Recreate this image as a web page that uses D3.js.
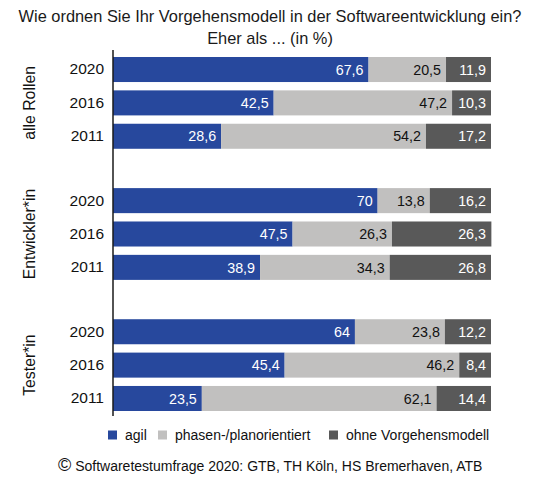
<!DOCTYPE html>
<html>
<head>
<meta charset="utf-8">
<script src="https://cdn.jsdelivr.net/npm/d3@7"></script>
<style>
  body { margin: 0; background: #fff; }
  svg { display: block; font-family: "Liberation Sans", Arial, Helvetica, sans-serif; }
</style>
</head>
<body>
<svg id="chart" width="540" height="484"></svg>
<script>
const WIDTH = 540;
const HEIGHT = 484;

// chart data
const groups = ["alle Rollen", "Entwickler*in", "Tester*in"];
const years = ["2020", "2016", "2011"];
const series = ["agil", "phasen-/planorientiert", "ohne Vorgehensmodell"];
const agil = [[67.6, 42.5, 28.6], [70, 47.5, 38.9], [64, 45.4, 23.5]];
const phasen = [[20.5, 47.2, 54.2], [13.8, 26.3, 34.3], [23.8, 46.2, 62.1]];
const ohne = [[11.9, 10.3, 17.2], [16.2, 26.3, 26.8], [12.2, 8.4, 14.4]];
const colors = ["#27489d", "#c1c0bf", "#595959"];
const textColors = ["#ffffff", "#111111", "#ffffff"];

const svg = d3.select("#chart");

// scales
const x = d3.scaleLinear().domain([0, 100]).range([113, 491]);
const yGroup = d3.scaleBand().domain(groups).range([57, 411]).paddingInner(0.3);
const yYear = d3.scaleBand().domain(years).range([0, yGroup.bandwidth()]).paddingInner(0.25);

// build rows
const rows = [];
groups.forEach((g, gi) => {
  years.forEach((yr, yi) => {
    const vals = [agil[gi][yi], phasen[gi][yi], ohne[gi][yi]];
    let start = 0;
    vals.forEach((v, si) => {
      rows.push({ group: g, year: yr, s: si, x0: start, x1: start + v, v: v });
      start += v;
    });
  });
});

const fmt = (v) => String(v).replace(".", ",");

// title
svg.append("text")
  .attr("x", WIDTH / 2).attr("y", 22)
  .attr("text-anchor", "middle")
  .style("font-size", "16.4px").style("fill", "#1a1a1a")
  .text("Wie ordnen Sie Ihr Vorgehensmodell in der Softwareentwicklung ein?");
svg.append("text")
  .attr("x", WIDTH / 2).attr("y", 44)
  .attr("text-anchor", "middle")
  .style("font-size", "16.4px").style("fill", "#1a1a1a")
  .text("Eher als ... (in %)");

// bars
const gGroups = svg.selectAll("g.grp")
  .data(groups)
  .enter()
  .append("g")
  .attr("class", "grp")
  .attr("transform", (d) => `translate(0, ${yGroup(d)})`);

gGroups.selectAll("rect")
  .data((g) => rows.filter((r) => r.group === g))
  .enter()
  .append("rect")
  .attr("x", (d) => x(d.x0))
  .attr("width", (d) => x(d.x1) - x(d.x0))
  .attr("y", (d) => yYear(d.year))
  .attr("height", yYear.bandwidth())
  .attr("fill", (d) => colors[d.s]);

// value labels
gGroups.selectAll("text.val")
  .data((g) => rows.filter((r) => r.group === g))
  .enter()
  .append("text")
  .attr("class", "val")
  .attr("x", (d) => Math.min(x(d.x1), x(100)) - 5)
  .attr("y", (d) => yYear(d.year) + yYear.bandwidth() / 2)
  .attr("dy", "0.36em")
  .attr("text-anchor", "end")
  .style("font-size", "14.3px")
  .style("fill", (d) => textColors[d.s])
  .text((d) => fmt(d.v));

// year labels via axis
gGroups.each(function () {
  const axis = d3.axisLeft(yYear).tickSize(0).tickPadding(0);
  const a = d3.select(this).append("g")
    .attr("transform", "translate(104, 0)")
    .call(axis);
  a.select(".domain").remove();
  a.selectAll("text")
    .style("font-size", "15.5px")
    .style("font-family", "'Liberation Sans', Arial, sans-serif")
    .style("fill", "#111");
});

// group labels
svg.selectAll("text.grp-label")
  .data(groups)
  .enter()
  .append("text")
  .attr("class", "grp-label")
  .attr("transform", (d) => `translate(35, ${yGroup(d) + yGroup.bandwidth() / 2}) rotate(-90)`)
  .attr("text-anchor", "middle")
  .style("font-size", "15.8px")
  .style("fill", "#111")
  .text((d) => d);

// vertical axis line
svg.append("line")
  .attr("x1", x(0)).attr("x2", x(0))
  .attr("y1", 50).attr("y2", 416)
  .attr("stroke", "#1a1a1a")
  .attr("stroke-width", 1.5);

// legend
const legendX = [108, 158, 329];
const legend = svg.selectAll("g.leg")
  .data(series)
  .enter()
  .append("g")
  .attr("class", "leg")
  .attr("transform", (d, i) => `translate(${legendX[i]}, 435)`);
legend.append("rect")
  .attr("x", 0).attr("y", -4.5)
  .attr("width", 9).attr("height", 9)
  .attr("fill", (d, i) => colors[i]);
legend.append("text")
  .attr("x", 17)
  .attr("dy", "0.36em")
  .style("font-size", "14px")
  .style("fill", "#111")
  .text((d) => d);

// source
const src = svg.append("text")
  .attr("x", 58).attr("y", 466)
  .attr("dy", "0.36em")
  .style("font-size", "14px")
  .style("fill", "#111");
src.append("tspan")
  .style("font-size", "18px")
  .text("\u00A9");
src.append("tspan")
  .text(" Softwaretestumfrage 2020: GTB, TH Köln, HS Bremerhaven, ATB");
</script>
</body>
</html>
